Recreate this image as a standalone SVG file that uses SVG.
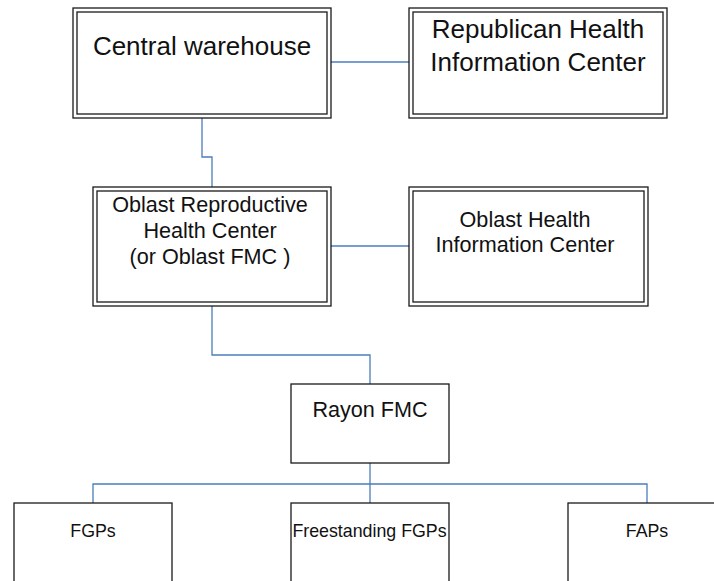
<svg xmlns="http://www.w3.org/2000/svg" width="714" height="581" viewBox="0 0 714 581">
  <style>
    .box { fill: #ffffff; stroke: #1a1a1a; stroke-width: 1.3; }
    .inner { fill: none; stroke: #1a1a1a; stroke-width: 1.3; }
    .link { fill: none; stroke: #4a7ebb; stroke-width: 1.3; }
    text { font-family: "Liberation Sans", Arial, sans-serif; fill: #111111; text-anchor: middle; }
    .big { font-size: 26px; }
    .mid { font-size: 21.6px; }
    .small { font-size: 17.8px; }
  </style>
  <rect width="714" height="581" fill="#ffffff"/>

  <!-- connectors -->
  <g id="connectors">
    <path class="link" d="M331 62 H409"/>
    <path class="link" d="M202 118 V157 H212 V187"/>
    <path class="link" d="M331 246 H409"/>
    <path class="link" d="M212 306 V355 H370 V384"/>
    <path class="link" d="M370 463 V503"/>
    <path class="link" d="M93 503 V484 H647 V503"/>
  </g>

  <g id="central-warehouse">
    <rect class="box" x="73" y="8" width="258" height="110"/>
    <rect class="inner" x="77" y="12" width="250" height="102"/>
    <text class="big" x="202" y="55">Central warehouse</text>
  </g>

  <g id="republican-hic">
    <rect class="box" x="409" y="8" width="258" height="110"/>
    <rect class="inner" x="413" y="12" width="250" height="102"/>
    <text class="big" x="538" y="38">Republican Health</text>
    <text class="big" x="538" y="71">Information Center</text>
  </g>

  <g id="oblast-rhc">
    <rect class="box" x="93" y="187" width="238" height="119"/>
    <rect class="inner" x="97" y="191" width="230" height="111"/>
    <text class="mid" x="210" y="212">Oblast Reproductive</text>
    <text class="mid" x="210" y="238">Health Center</text>
    <text class="mid" x="210" y="264">(or Oblast FMC )</text>
  </g>

  <g id="oblast-hic">
    <rect class="box" x="409" y="187" width="239" height="119"/>
    <rect class="inner" x="413" y="191" width="231" height="111"/>
    <text class="mid" x="525" y="227">Oblast Health</text>
    <text class="mid" x="525" y="252">Information Center</text>
  </g>

  <g id="rayon-fmc">
    <rect class="box" x="291" y="384" width="158" height="79"/>
    <text class="mid" x="370" y="417">Rayon FMC</text>
  </g>

  <g id="fgps">
    <rect class="box" x="14" y="503" width="158" height="90"/>
    <text class="small" x="93" y="537">FGPs</text>
  </g>

  <g id="freestanding-fgps">
    <rect class="box" x="291" y="503" width="158" height="90"/>
    <text class="small" x="369.5" y="537">Freestanding FGPs</text>
  </g>

  <g id="faps">
    <rect class="box" x="568" y="503" width="158" height="90"/>
    <text class="small" x="647" y="537">FAPs</text>
  </g>
</svg>
